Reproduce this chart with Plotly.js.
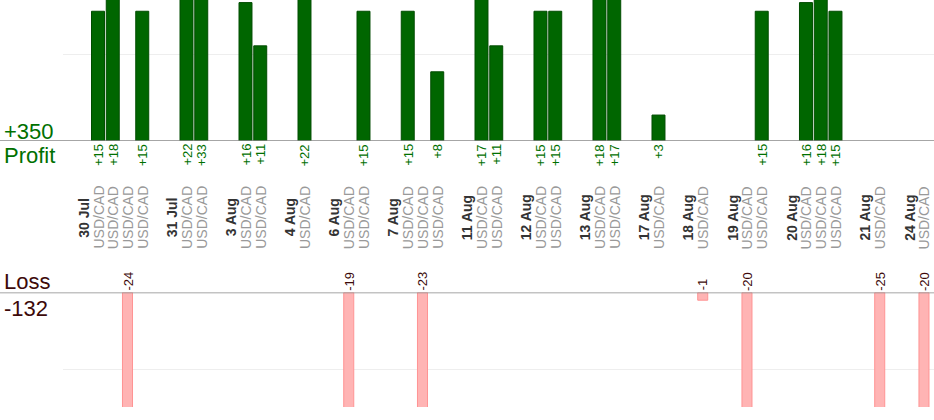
<!DOCTYPE html>
<html>
<head>
<meta charset="utf-8">
<script src="https://cdn.plot.ly/plotly-3.0.1.min.js"></script>
<style>
  html, body { margin: 0; padding: 0; background: #fff; }
  #chart { width: 934px; height: 420px; }
</style>
</head>
<body>
<div id="chart"></div>
<script>
// trade days and the result of every USD/CAD trade on that day (pips)
var days = ['30 Jul', '31 Jul', '3 Aug', '4 Aug', '6 Aug', '7 Aug', '11 Aug', '12 Aug',
            '13 Aug', '17 Aug', '18 Aug', '19 Aug', '20 Aug', '21 Aug', '24 Aug'];
var trades = [
  [15, 18, -24, 15],
  [22, 33],
  [16, 11],
  [22],
  [-19, 15],
  [15, -23, 8],
  [17, 11],
  [15, 15],
  [18, 17],
  [3],
  [-1],
  [-20, 15],
  [16, 18, 15],
  [-25],
  [-20]
];
var pair = 'USD/CAD';

var W = 934, H = 420, L = 63;
var font = 'Arial, "Liberation Sans", sans-serif';

// lay the trades out in slots, two empty slots between days
var winX = [], winY = [], lossX = [], lossY = [];
var ann = [];
var pos = 0, totWin = 0, totLoss = 0;
var labelY = 1 - 217.5 / H;

for (var d = 0; d < days.length; d++) {
  if (d > 0) pos += 2;
  ann.push({
    x: pos - 1, xref: 'x', y: labelY, yref: 'paper',
    text: '<b>' + days[d] + '</b>', textangle: -90, showarrow: false,
    xanchor: 'center', yanchor: 'middle',
    font: {family: font, size: 14, color: '#333'}
  });
  for (var t = 0; t < trades[d].length; t++) {
    var v = trades[d][t];
    ann.push({
      x: pos, xref: 'x', y: labelY, yref: 'paper',
      text: pair, textangle: -90, showarrow: false,
      xanchor: 'center', yanchor: 'middle',
      font: {family: font, size: 14, color: '#999'}
    });
    if (v > 0) {
      winX.push(pos); winY.push(v); totWin += v;
      ann.push({
        x: pos, xref: 'x', y: 0, yref: 'y',
        text: '+' + v, textangle: -90, showarrow: false,
        xanchor: 'center', yanchor: 'top', yshift: -1,
        font: {family: font, size: 13, color: '#007000'}
      });
    } else {
      lossX.push(pos); lossY.push(v); totLoss += v;
      ann.push({
        x: pos, xref: 'x', y: 0, yref: 'y2',
        text: String(v), textangle: -90, showarrow: false,
        xanchor: 'center', yanchor: 'bottom', yshift: 0,
        font: {family: font, size: 13, color: '#3d0a0a'}
      });
    }
    pos++;
  }
}
var lastPos = pos - 1;

// totals on the left
function px(p) { return (p - L) / (W - L); }
function py(p) { return 1 - p / H; }
ann.push({x: px(2), xref: 'paper', y: py(131), yref: 'paper', text: '+' + totWin,
  showarrow: false, xanchor: 'left', yanchor: 'middle',
  font: {family: font, size: 22, color: '#007000'}});
ann.push({x: px(2), xref: 'paper', y: py(155), yref: 'paper', text: 'Profit',
  showarrow: false, xanchor: 'left', yanchor: 'middle',
  font: {family: font, size: 22, color: '#007000'}});
ann.push({x: px(2), xref: 'paper', y: py(281), yref: 'paper', text: 'Loss',
  showarrow: false, xanchor: 'left', yanchor: 'middle',
  font: {family: font, size: 22, color: '#3d0a0a'}});
ann.push({x: px(2), xref: 'paper', y: py(308), yref: 'paper', text: String(totLoss),
  showarrow: false, xanchor: 'left', yanchor: 'middle',
  font: {family: font, size: 22, color: '#3d0a0a'}});

var data = [
  {
    type: 'bar', x: winX, y: winY, xaxis: 'x', yaxis: 'y', width: 0.88,
    marker: {color: '#006600', line: {color: '#004c00', width: 1}},
    hoverinfo: 'none'
  },
  {
    type: 'bar', x: lossX, y: lossY, xaxis: 'x', yaxis: 'y2', width: 0.68,
    marker: {color: '#ffb4b4', line: {color: '#ff9494', width: 1}},
    hoverinfo: 'none'
  }
];

var layout = {
  width: W, height: H,
  margin: {l: L, r: 0, t: 0, b: 0},
  paper_bgcolor: '#fff', plot_bgcolor: '#fff',
  showlegend: false,
  xaxis: {
    range: [-2.373, 56.68], visible: false, fixedrange: true
  },
  yaxis: {
    domain: [1 - 141 / H, 1], range: [0, 16.3],
    tickvals: [10], showticklabels: false, showgrid: true,
    gridcolor: '#eeeeee', gridwidth: 1, zeroline: false, showline: false
  },
  yaxis2: {
    domain: [(H - 407) / H, (H - 292.5) / H], range: [-14.85, 0], anchor: 'x',
    tickvals: [-10], showticklabels: false, showgrid: true,
    gridcolor: '#eeeeee', gridwidth: 1, zeroline: false, showline: false
  },
  shapes: [
    {type: 'line', xref: 'paper', yref: 'y', x0: -L / (W - L), x1: 1, y0: 0, y1: 0,
     line: {color: '#888', width: 1.5}},
    {type: 'line', xref: 'paper', yref: 'y2', x0: -L / (W - L), x1: 1, y0: 0, y1: 0,
     line: {color: '#888', width: 1.5}}
  ],
  annotations: ann
};

Plotly.newPlot('chart', data, layout, {displayModeBar: false, staticPlot: true});
</script>
</body>
</html>
